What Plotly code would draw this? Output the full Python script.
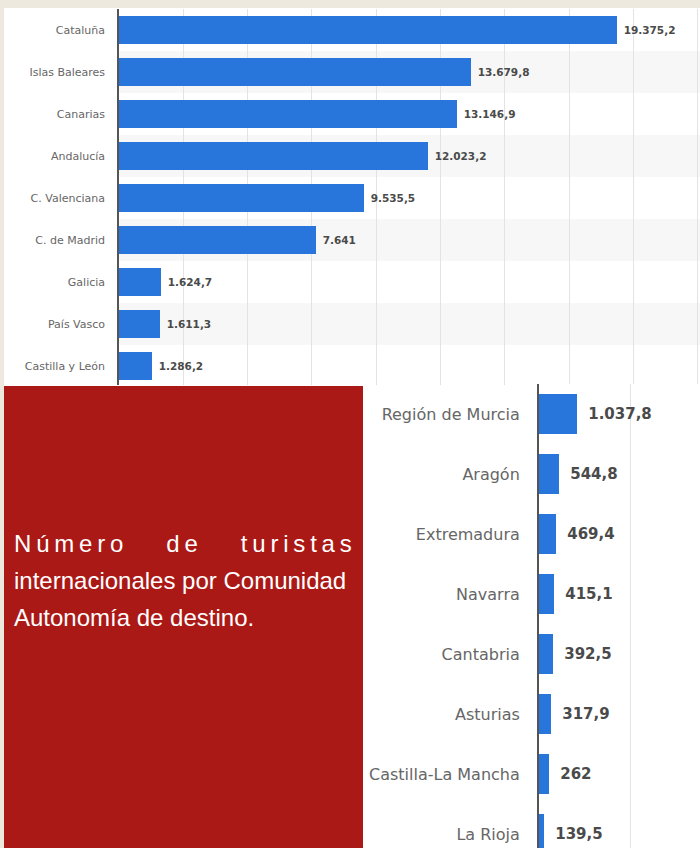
import plotly.graph_objects as go

# ---------------- data (miles de turistas internacionales) ----------------
comunidades_arriba = ["Cataluña", "Islas Baleares", "Canarias", "Andalucía",
                      "C. Valenciana", "C. de Madrid", "Galicia", "País Vasco",
                      "Castilla y León"]
turistas_arriba = [19375.2, 13679.8, 13146.9, 12023.2, 9535.5, 7641, 1624.7, 1611.3, 1286.2]

comunidades_abajo = ["Región de Murcia", "Aragón", "Extremadura", "Navarra",
                     "Cantabria", "Asturias", "Castilla-La Mancha", "La Rioja"]
turistas_abajo = [1037.8, 544.8, 469.4, 415.1, 392.5, 317.9, 262, 139.5]

titulo_palabras = ["Número", "de", "turistas"]
titulo_linea2 = "internacionales por Comunidad"
titulo_linea3 = "Autonomía de destino."

# ---------------- helpers ----------------
W, H = 700, 848
BLUE = "#2875dc"
RED = "#ab1916"
BG = "#eee9df"
BAND = "#f7f7f7"
GRID = "#e3e3e3"


def fmt_es(v):
    if float(v).is_integer():
        return f"{int(v):,}".replace(",", ".")
    s = f"{v:,.1f}"
    return s.replace(",", "X").replace(".", ",").replace("X", ".")


def px_x(p):
    return p / W


def px_y(p):
    return 1 - p / H


fig = go.Figure()

fig.add_trace(go.Bar(
    x=turistas_arriba, y=comunidades_arriba, orientation="h",
    marker=dict(color=BLUE, line=dict(width=0)), width=0.67,
    text=[fmt_es(v) for v in turistas_arriba], textposition="outside",
    texttemplate="\u00a0%{text}",
    constraintext="none", cliponaxis=False,
    textfont=dict(family="DejaVu Sans", size=10.5, color="#4a4a4a", weight="bold"),
    xaxis="x", yaxis="y", hoverinfo="skip", showlegend=False,
))
fig.add_trace(go.Bar(
    x=turistas_abajo, y=comunidades_abajo, orientation="h",
    marker=dict(color=BLUE, line=dict(width=0)), width=0.68,
    text=[fmt_es(v) for v in turistas_abajo], textposition="outside",
    texttemplate="\u00a0\u2009%{text}",
    constraintext="none", cliponaxis=False,
    textfont=dict(family="DejaVu Sans", size=15, color="#4a4a4a", weight="bold"),
    xaxis="x2", yaxis="y2", hoverinfo="skip", showlegend=False,
))

# scales (px per thousand)
k_top = 0.02572
k_bot = 0.0367
top_row = 42
bot_row = 60

shapes = [
    # white panels
    dict(type="rect", xref="paper", yref="paper", x0=px_x(4), x1=1, y0=px_y(386), y1=px_y(8),
         fillcolor="white", line=dict(width=0), layer="below"),
    dict(type="rect", xref="paper", yref="paper", x0=px_x(363), x1=1, y0=0, y1=px_y(385),
         fillcolor="white", line=dict(width=0), layer="below"),
    # red title box
    dict(type="rect", xref="paper", yref="paper", x0=px_x(4), x1=px_x(363), y0=0, y1=px_y(386),
         fillcolor=RED, line=dict(width=0), layer="above"),
]
for i in range(len(comunidades_arriba)):
    if i % 2 == 1:
        shapes.append(dict(type="rect", xref="x domain", yref="y", x0=0, x1=1,
                           y0=i - 0.5, y1=i + 0.5, fillcolor=BAND, line=dict(width=0), layer="below"))
off = len(comunidades_arriba)
for i in range(len(comunidades_abajo)):
    if (i + off) % 2 == 1:
        shapes.append(dict(type="rect", xref="x2 domain", yref="y2", x0=0, x1=1,
                           y0=i - 0.5, y1=i + 0.5, fillcolor=BAND, line=dict(width=0), layer="below"))

nb = "\u00a0"
thin = "\u2009"
linea1 = (thin + nb * 5 + thin).join(thin.join(list(w)) for w in titulo_palabras)
tfont = dict(family="Liberation Sans", size=24, color="white")
annotations = [
    dict(text=linea1, x=px_x(12), y=px_y(543), xref="paper", yref="paper",
         xanchor="left", yanchor="middle", showarrow=False, font=tfont),
    dict(text=titulo_linea2, x=px_x(12), y=px_y(580), xref="paper", yref="paper",
         xanchor="left", yanchor="middle", showarrow=False, font=tfont),
    dict(text=titulo_linea3, x=px_x(12), y=px_y(617), xref="paper", yref="paper",
         xanchor="left", yanchor="middle", showarrow=False, font=tfont),
]

axis_common = dict(showgrid=True, gridcolor=GRID, gridwidth=1, dtick=2500, tick0=0,
                   showticklabels=False, zeroline=False, showline=False, ticks="",
                   fixedrange=True)

fig.update_layout(
    width=W, height=H, margin=dict(l=0, r=0, t=0, b=0),
    paper_bgcolor=BG, plot_bgcolor="white",
    bargap=0,
    xaxis=dict(domain=[px_x(119), 1], range=[0, (W - 119) / k_top], anchor="y", **axis_common),
    yaxis=dict(domain=[px_y(385), px_y(9)], range=[-0.5 + (385 - 9) / top_row, -0.5],
               anchor="x", showline=True, linecolor="#555555", linewidth=1.5,
               showgrid=False, zeroline=False, ticks="", ticklabelstandoff=10,
               tickfont=dict(family="DejaVu Sans", size=11, color="#666666"),
               type="category", fixedrange=True),
    xaxis2=dict(domain=[px_x(539), 1], range=[0, (W - 539) / k_bot], anchor="y2", **axis_common),
    yaxis2=dict(domain=[0, px_y(384)], range=[-0.5 + (848 - 384) / bot_row, -0.5],
                anchor="x2", showline=True, linecolor="#555555", linewidth=2,
                showgrid=False, zeroline=False, ticks="", ticklabelstandoff=14,
                tickfont=dict(family="DejaVu Sans", size=16, color="#666666"),
                type="category", fixedrange=True),
    shapes=shapes,
    annotations=annotations,
)

fig.write_html("out.html", config={"displayModeBar": False},
               post_script="document.body.style.margin='0';")
